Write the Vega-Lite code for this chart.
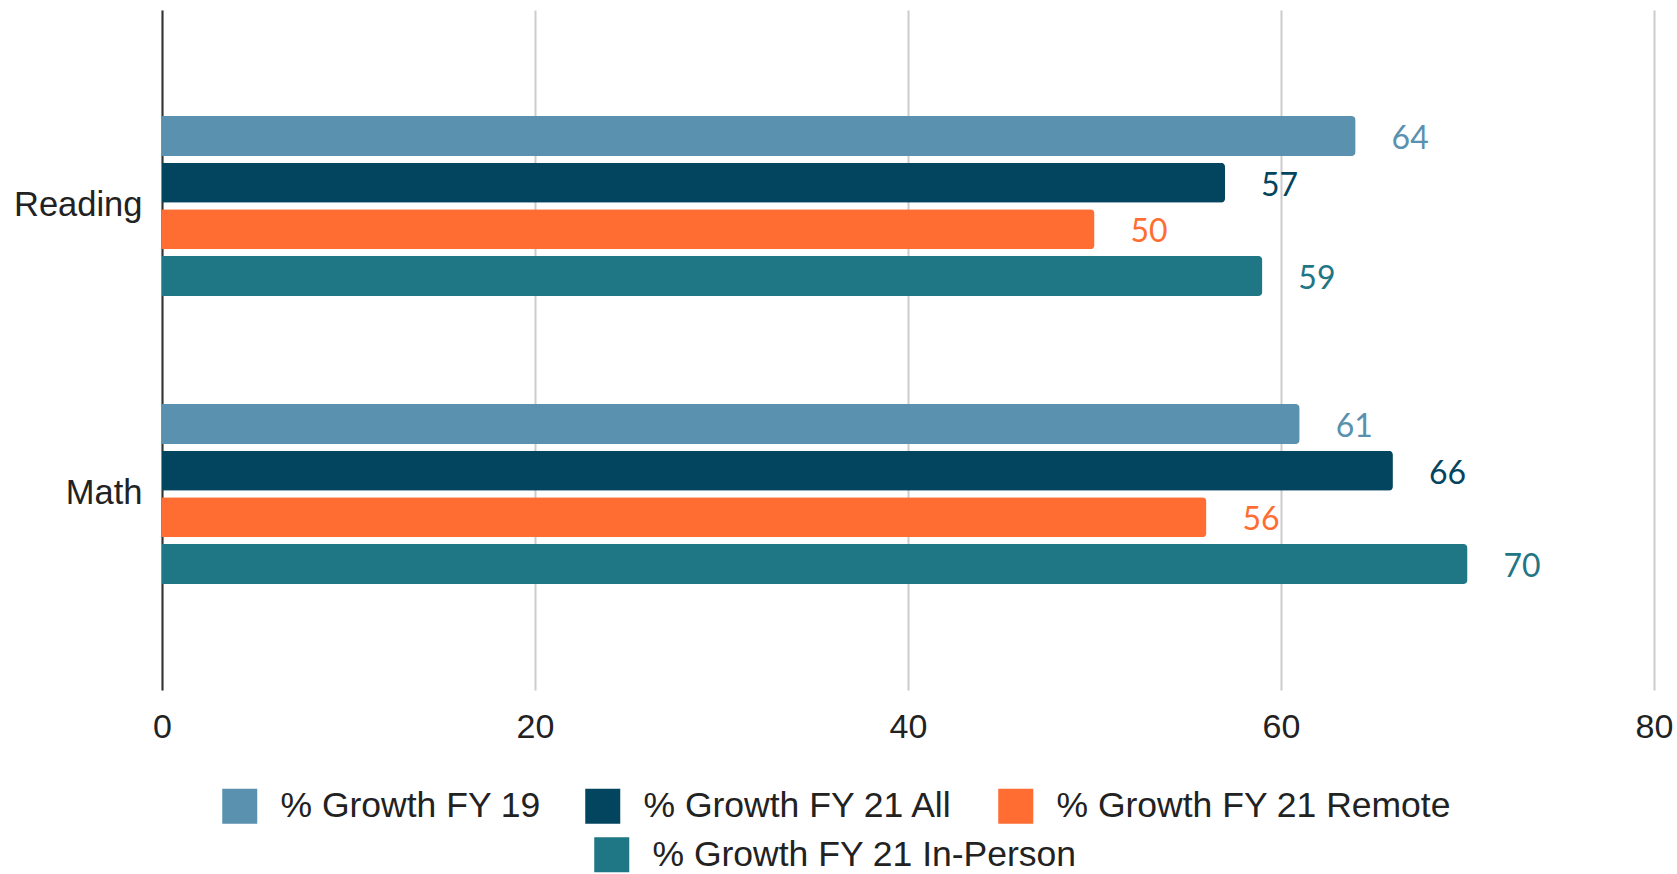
{
  "$schema": "https://vega.github.io/schema/vega-lite/v6.json",
  "width": 1492,
  "height": 680,
  "autosize": {"type": "none"},
  "padding": {"left": 162, "top": 10, "right": 23, "bottom": 184},
  "background": "white",
  "data": {
    "values": [
      {"subject": "Reading", "series": "% Growth FY 19", "value": 64},
      {"subject": "Reading", "series": "% Growth FY 21 All", "value": 57},
      {"subject": "Reading", "series": "% Growth FY 21 Remote", "value": 50},
      {"subject": "Reading", "series": "% Growth FY 21 In-Person", "value": 59},
      {"subject": "Math", "series": "% Growth FY 19", "value": 61},
      {"subject": "Math", "series": "% Growth FY 21 All", "value": 66},
      {"subject": "Math", "series": "% Growth FY 21 Remote", "value": 56},
      {"subject": "Math", "series": "% Growth FY 21 In-Person", "value": 70}
    ]
  },
  "encoding": {
    "y": {
      "field": "subject",
      "type": "nominal",
      "scale": {"domain": ["Reading", "Math"], "paddingInner": 0.375, "paddingOuter": 0.368},
      "axis": {
        "title": null,
        "ticks": false,
        "labelPadding": 20,
        "labelFont": "Liberation Sans",
        "labelFontSize": 34.5,
        "labelColor": "#222222",
        "domainColor": "#333333",
        "domainWidth": 2
      }
    },
    "yOffset": {
      "field": "series",
      "type": "nominal",
      "scale": {
        "domain": ["% Growth FY 19", "% Growth FY 21 All", "% Growth FY 21 Remote", "% Growth FY 21 In-Person"],
        "paddingInner": 0.143,
        "paddingOuter": 0
      }
    },
    "x": {
      "field": "value",
      "type": "quantitative",
      "scale": {"domain": [0, 80], "nice": false},
      "axis": {
        "title": null,
        "values": [0, 20, 40, 60, 80],
        "domain": false,
        "ticks": false,
        "grid": true,
        "gridColor": "#cccccc",
        "gridWidth": 2,
        "labelFlush": false,
        "labelPadding": 20,
        "labelFont": "Liberation Sans",
        "labelFontSize": 34,
        "labelColor": "#222222"
      }
    }
  },
  "layer": [
    {
      "transform": [{"filter": "datum.series !== '% Growth FY 21 In-Person'"}],
      "layer": [
        {
          "mark": {"type": "bar", "cornerRadiusEnd": 4},
          "encoding": {
            "color": {
              "field": "series",
              "type": "nominal",
              "scale": {
                "domain": ["% Growth FY 19", "% Growth FY 21 All", "% Growth FY 21 Remote"],
                "range": ["#5A91AF", "#03455F", "#FF6D33"]
              },
              "legend": {"title": null, "orient": "none", "legendX": 60, "legendY": 778, "direction": "horizontal", "symbolType": "square"}
            }
          }
        },
        {
          "mark": {"type": "text", "align": "left", "baseline": "middle", "dx": 36, "dy": 3, "font": "Lato", "fontSize": 32},
          "encoding": {
            "text": {"field": "value", "type": "quantitative"},
            "color": {"field": "series", "type": "nominal"}
          }
        }
      ]
    },
    {
      "transform": [{"filter": "datum.series === '% Growth FY 21 In-Person'"}],
      "layer": [
        {
          "mark": {"type": "bar", "cornerRadiusEnd": 4},
          "encoding": {
            "color": {
              "field": "series",
              "type": "nominal",
              "scale": {"domain": ["% Growth FY 21 In-Person"], "range": ["#1F7684"]},
              "legend": {"title": null, "orient": "none", "legendX": 432, "legendY": 827, "direction": "horizontal", "symbolType": "square"}
            }
          }
        },
        {
          "mark": {"type": "text", "align": "left", "baseline": "middle", "dx": 36, "dy": 3, "font": "Lato", "fontSize": 32},
          "encoding": {
            "text": {"field": "value", "type": "quantitative"},
            "color": {"field": "series", "type": "nominal"}
          }
        }
      ]
    }
  ],
  "resolve": {"scale": {"color": "independent"}},
  "config": {
    "view": {"stroke": null},
    "legend": {
      "labelFont": "Liberation Sans",
      "labelFontSize": 35.5,
      "labelColor": "#222222",
      "symbolSize": 1225,
      "symbolStrokeWidth": 0,
      "symbolOpacity": 1,
      "labelOffset": 23,
      "columnPadding": 44,
      "labelLimit": 600
    }
  }
}
